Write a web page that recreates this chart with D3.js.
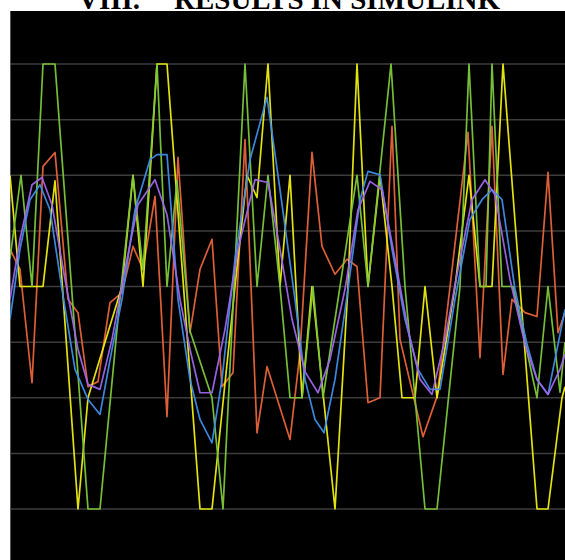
<!DOCTYPE html>
<html>
<head>
<meta charset="utf-8">
<script src="https://cdn.jsdelivr.net/npm/d3@7"></script>
<style>
  body { margin: 0; background: #fff; }
  svg { display: block; }
</style>
</head>
<body>
<div id="chart"></div>
<script>
// scope traces (time in ms, amplitude in grid units)
const yellowT = [0,1,3.3,4.5,6.8,7.8,11.2,12.3,13.3,14.7,15.7,19,20.2,22.5,23.7,24.7,25.8,27,28,29.2,30.2,32.5,33.8,34.7,35.8,37,38.2,39.2,40.5,41.5,42.7,44.5,45.9,47,48.2,49.3,52.7,53.8,55.2,55.5];
const yellowV = [2,0,0,1.9,-4,-2,0,2,0,4,4,-4,-4,0,2,1.6,4,0,2,-2,0,-4,0,4,0,2,0,-2,-2,0,-2,0,2,0,0,4,-4,-4,-2,-1.8];

const greenT = [0,1.1,2.2,3.3,4.5,7.8,9,11,12.3,13.3,14.7,15.7,16.7,18,20.2,21.3,23.5,24.7,25.8,27,28,29.2,30.3,31.3,34.7,35.8,38.1,39.5,41.5,42.7,45,45.9,47,47.6,48.2,49.2,50.3,52.7,53.8,55,55.5];
const greenV = [0.5,2,0,4,4,-4,-4,-0.2,2,0.3,4,0,1.9,-0.8,-2,-4,4,0,2,0,-2,-2,0,-2,2,0,4,0,-4,-4,0,4,0,0,4,0,0,-2,0,-1.9,-1];

const orangeT = [0,1,2.2,3.3,4.5,5.8,6.8,7.8,8.8,10,11.2,12.3,13.3,14.5,15.7,16.8,18,19,20.2,21.2,22.3,23.5,24.7,25.7,28,29,30.2,31.2,32.5,33.7,34.7,35.8,37,38.2,39,41.3,42.7,43.7,45.8,47,48.2,49.3,50.2,51.5,52.7,53.8,54.8,55.5];
const orangeV = [0.67,0.31,-1.73,2.16,2.41,-0.23,-0.47,-1.8,-1.71,-0.29,-0.11,0.72,0.31,1.62,-2.34,2.32,-0.83,0.31,0.85,-1.8,-1.55,2.64,-2.63,-1.44,-2.75,-1.19,2.41,0.72,0.22,0.49,0.36,-2.09,-2.0,2.88,-0.95,-2.7,-1.98,-0.47,2.77,-1.28,2.88,-1.58,-0.23,-0.47,-0.54,2.05,-0.83,-0.47];

const blueT = [0,1,2,3,4,5.2,6.5,7.8,9,10.2,11.2,12.5,14,14.7,15.7,16.8,18,19,20.2,21.2,22.5,24,25.7,27,28.5,29.5,30.5,31.4,32.5,33.8,35,35.8,37,38.2,39.5,40.8,42,43,44.5,46,47.2,48.2,49.2,50.5,51.7,52.7,53.8,55.5];
const blueV = [-0.59,0.67,1.56,1.83,1.38,-0.05,-1.49,-2.03,-2.3,-1.13,-0.23,1.38,2.28,2.37,2.37,-0.23,-1.67,-2.39,-2.81,-1.67,0.49,2.28,3.4,1.74,-0.23,-1.67,-2.39,-2.63,-1.67,-0.05,1.56,2.07,2.01,0.67,-0.59,-1.49,-1.85,-1.85,-0.23,1.21,1.56,1.74,1.56,-0.05,-1.04,-1.67,-1.94,-0.41];

const purpleT = [0,1,2.2,3.2,4.2,5.5,6.8,7.8,9,10.2,11.5,12.8,14.5,15.7,17,18,19,20.2,21.5,22.8,24.5,25.8,27,28.2,29.5,30.8,32,33.5,34.8,36,37.2,38.5,39.8,41,42.2,43.5,44.8,46.2,47.5,48.5,50,51.5,52.7,53.8,55,55.5];
const purpleV = [-0.23,0.85,1.83,1.96,1.47,0.13,-1.13,-1.76,-1.85,-0.95,0.31,1.47,1.92,1.29,-0.23,-1.13,-1.91,-1.91,-0.77,0.67,1.92,1.87,0.67,-0.59,-1.53,-1.91,-1.31,-0.05,1.38,1.89,1.74,0.49,-0.77,-1.67,-1.94,-0.95,0.31,1.56,1.92,1.65,0.13,-1.04,-1.67,-1.94,-1.49,-1.22];

const gridValues = [-4,-3,-2,-1,0,1,2,3,4];

const series = [
  { name: 'orange', t: orangeT, v: orangeV, color: '#e8643a' },
  { name: 'yellow', t: yellowT, v: yellowV, color: '#eeee10' },
  { name: 'green',  t: greenT,  v: greenV,  color: '#7cc83a' },
  { name: 'blue',   t: blueT,   v: blueV,   color: '#3e8ee8' },
  { name: 'purple', t: purpleT, v: purpleV, color: '#a066ec' }
];

const width = 565, height = 560;
const plot = { L: 10, R: 565, T: 11, B: 560 };

const svg = d3.select('#chart').append('svg')
  .attr('width', width).attr('height', height);

// title (cut off by the top of the page)
svg.append('text')
  .attr('x', 78).attr('y', 9)
  .attr('font-family', '"Liberation Serif", "Times New Roman", serif')
  .attr('font-weight', 'bold').attr('font-size', 29)
  .text('VIII.');
svg.append('text')
  .attr('x', 174).attr('y', 9)
  .attr('font-family', '"Liberation Serif", "Times New Roman", serif')
  .attr('font-weight', 'bold').attr('font-size', 29)
  .text('RESULTS IN SIMULINK');

svg.append('rect')
  .attr('x', plot.L).attr('y', plot.T)
  .attr('width', plot.R - plot.L).attr('height', plot.B - plot.T)
  .attr('fill', '#000');

svg.append('defs').append('clipPath').attr('id', 'clip')
  .append('rect')
  .attr('x', plot.L).attr('y', plot.T)
  .attr('width', plot.R - plot.L).attr('height', plot.B - plot.T);

const x = d3.scaleLinear().domain([0, 55.5]).range([10, 565]);
const y = d3.scaleLinear().domain([-4, 4]).range([509, 64]);

// horizontal grid
svg.append('g')
  .selectAll('line')
  .data(gridValues)
  .enter().append('line')
    .attr('x1', plot.L).attr('x2', plot.R)
    .attr('y1', d => y(d)).attr('y2', d => y(d))
    .attr('stroke', '#3c3c3c').attr('stroke-width', 1.5);

// left edge of the scope
svg.append('line')
  .attr('x1', plot.L + 0.5).attr('x2', plot.L + 0.5)
  .attr('y1', plot.T).attr('y2', plot.B)
  .attr('stroke', '#555').attr('stroke-width', 1);

const line = d3.line()
  .x(d => x(d[0]))
  .y(d => y(d[1]));

svg.append('g').attr('clip-path', 'url(#clip)')
  .selectAll('path')
  .data(series)
  .enter().append('path')
    .attr('d', s => line(d3.zip(s.t, s.v)))
    .attr('fill', 'none')
    .attr('stroke', s => s.color)
    .attr('stroke-width', 1.7)
    .attr('stroke-linejoin', 'round')
    .attr('opacity', 0.95);
</script>
</body>
</html>
